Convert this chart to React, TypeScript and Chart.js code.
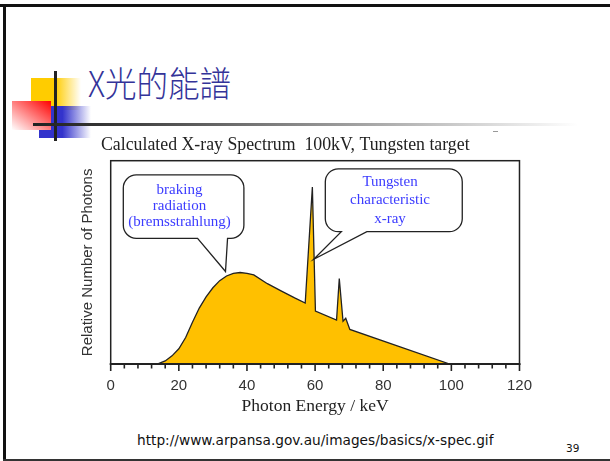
import { useEffect, useRef } from "react";
import { Chart, registerables } from "chart.js";

Chart.register(...registerables);

// ---- data ----
const energyKeV = [12, 14, 16, 18, 20, 22, 24, 26, 28, 30, 32, 34, 36, 38, 40, 42, 46, 50, 54, 57.1, 59.2, 60.1, 66.3, 67.1, 68.2, 69.0, 70.2, 99.5];
const relativePhotons = [0, 0.2, 1.5, 4, 7.5, 13, 20.5, 27.5, 33, 37.5, 41, 43.3, 44.6, 45, 44.6, 43.8, 39.5, 36, 32.5, 30, 87, 26, 21.6, 42, 21, 22.5, 17, 0];

const xMin = 0;
const xMax = 120;
const xMajorStep = 20;
const xMinorStep = 4;
const yMin = 0;
const yMax = 100;

const chartTitle = "Calculated X-ray Spectrum  100kV, Tungsten target";
const xAxisTitle = "Photon Energy / keV";
const yAxisTitle = "Relative Number of Photons";
const brakingLines = ["braking", "radiation", "(bremsstrahlung)"];
const tungstenLines = ["Tungsten", "characteristic", "x-ray"];
const slideTitleLatin = "X";
const slideTitleCjk = "光的能譜";
const sourceUrl = "http://www.arpansa.gov.au/images/basics/x-spec.gif";
const pageNumber = "39";

// callout geometry in data units (keV, relative photons)
const brakingCallout = {
  box: { x0: 3.7, x1: 39.1, y0: 61.8, y1: 93.0 },
  pointer: { base0: 25.5, base1: 34.3, tipX: 33.7, tipY: 45.5 },
  text: { x: 20.2, y: [85.6, 77.7, 69.7] },
};
const tungstenCallout = {
  box: { x0: 63.0, x1: 103.2, y0: 65.1, y1: 96.0 },
  pointer: { base0: 67.7, base1: 75.2, tipX: 59.6, tipY: 51.5 },
  text: { x: 82.0, y: [89.7, 80.5, 71.3] },
};

type Callout = typeof brakingCallout;

function drawCallout(ctx: CanvasRenderingContext2D, xs: any, ys: any, c: Callout, lines: string[]) {
  const L = xs.getPixelForValue(c.box.x0);
  const R = xs.getPixelForValue(c.box.x1);
  const T = ys.getPixelForValue(c.box.y1);
  const B = ys.getPixelForValue(c.box.y0);
  const pl = xs.getPixelForValue(c.pointer.base0);
  const pr = xs.getPixelForValue(c.pointer.base1);
  const tx = xs.getPixelForValue(c.pointer.tipX);
  const ty = ys.getPixelForValue(c.pointer.tipY);
  const r = 13;
  ctx.beginPath();
  ctx.moveTo(L + r, T);
  ctx.lineTo(R - r, T);
  ctx.arcTo(R, T, R, T + r, r);
  ctx.lineTo(R, B - r);
  ctx.arcTo(R, B, R - r, B, r);
  ctx.lineTo(pr, B);
  ctx.lineTo(tx, ty);
  ctx.lineTo(pl, B);
  ctx.lineTo(L + r, B);
  ctx.arcTo(L, B, L, B - r, r);
  ctx.lineTo(L, T + r);
  ctx.arcTo(L, T, L + r, T, r);
  ctx.closePath();
  ctx.fillStyle = "#ffffff";
  ctx.fill();
  ctx.strokeStyle = "#222";
  ctx.lineWidth = 1.3;
  ctx.stroke();

  ctx.fillStyle = "#3c3cff";
  ctx.font = "15px 'Liberation Serif', 'Times New Roman', serif";
  ctx.textAlign = "center";
  ctx.textBaseline = "middle";
  const cx = xs.getPixelForValue(c.text.x);
  lines.forEach((ln, i) => {
    ctx.fillText(ln, cx, ys.getPixelForValue(c.text.y[i]));
  });
}

const decorPlugin = {
  id: "spectrumDecor",
  afterDatasetsDraw(chart: any) {
    const { ctx, chartArea: a, scales } = chart;
    const xs = scales.x;
    const ys = scales.y;
    ctx.save();
    // frame
    ctx.strokeStyle = "#222";
    ctx.lineWidth = 1.5;
    ctx.strokeRect(a.left, a.top, a.right - a.left, a.bottom - a.top);
    // bottom axis line
    ctx.lineWidth = 2.2;
    ctx.beginPath();
    ctx.moveTo(a.left - 1, a.bottom);
    ctx.lineTo(a.right + 1, a.bottom);
    ctx.stroke();
    // tick marks
    ctx.lineWidth = 1.6;
    for (let v = xMin; v <= xMax; v += xMinorStep) {
      const px = xs.getPixelForValue(v);
      const len = v % xMajorStep === 0 ? 7 : 4.5;
      ctx.beginPath();
      ctx.moveTo(px, a.bottom);
      ctx.lineTo(px, a.bottom + len);
      ctx.stroke();
    }
    // callouts
    drawCallout(ctx, xs, ys, brakingCallout, brakingLines);
    drawCallout(ctx, xs, ys, tungstenCallout, tungstenLines);
    // chart title
    ctx.fillStyle = "#222";
    ctx.font = "17.8px 'Liberation Serif', 'Times New Roman', serif";
    ctx.textAlign = "left";
    ctx.textBaseline = "middle";
    ctx.fillText(chartTitle, a.left - 9.7, a.top - 15.7);
    ctx.restore();
  },
};

function SpectrumChart() {
  const ref = useRef<HTMLCanvasElement | null>(null);
  useEffect(() => {
    if (!ref.current) return;
    const chart = new Chart(ref.current, {
      type: "line",
      data: {
        datasets: [
          {
            data: energyKeV.map((e, i) => ({ x: e, y: relativePhotons[i] })),
            borderColor: "#222",
            borderWidth: 1.3,
            backgroundColor: "#FFC000",
            fill: "origin",
            pointRadius: 0,
            tension: 0,
          },
        ],
      },
      options: {
        animation: false,
        responsive: true,
        maintainAspectRatio: false,
        layout: { padding: { top: 30.7, right: 23.3, left: 0, bottom: 0 } },
        plugins: {
          legend: { display: false },
          tooltip: { enabled: false },
          title: { display: false },
        },
        scales: {
          x: {
            type: "linear",
            min: xMin,
            max: xMax,
            ticks: {
              stepSize: xMajorStep,
              autoSkip: false,
              maxRotation: 0,
              padding: 13,
              color: "#333",
              font: { family: "'Liberation Sans', Arial, sans-serif", size: 15 },
            },
            grid: { display: false, drawTicks: false },
            border: { display: false },
            title: {
              display: true,
              text: xAxisTitle,
              color: "#222",
              font: { family: "'Liberation Serif', 'Times New Roman', serif", size: 17.5 },
              padding: { top: 0, bottom: 3 },
            },
            afterFit: (s: any) => {
              s.height = 56;
            },
          },
          y: {
            type: "linear",
            min: yMin,
            max: yMax,
            ticks: { display: false },
            grid: { display: false, drawTicks: false },
            border: { display: false },
            title: {
              display: true,
              text: yAxisTitle,
              color: "#333",
              font: { family: "'Liberation Sans', Arial, sans-serif", size: 15 },
              padding: { top: 4, bottom: 0 },
            },
            afterFit: (s: any) => {
              s.width = 35.7;
            },
          },
        },
      },
      plugins: [decorPlugin],
    });
    return () => chart.destroy();
  }, []);
  return <canvas ref={ref} />;
}

export default function App() {
  const abs = (s: any) => ({ position: "absolute", ...s } as any);
  return (
    <div style={abs({ position: "fixed", left: 0, top: 0, width: 610, height: 461, background: "#fff", overflow: "hidden" })}>
      {/* slide border */}
      <div style={abs({ left: 0, top: 4, width: 610, height: 3, background: "#111" })} />
      <div style={abs({ left: 3, top: 4, width: 2.5, height: 456, background: "#111" })} />
      <div style={abs({ left: 3, top: 458.5, width: 607, height: 2, background: "#333" })} />

      {/* title decoration */}
      <div style={abs({ left: 31, top: 78, width: 50, height: 32, background: "linear-gradient(to right, #FFCC00 0%, #FFCC00 48%, rgba(255,255,255,0) 100%)" })} />
      <div style={abs({ left: 39, top: 106, width: 52, height: 32, background: "linear-gradient(to right, #3333CC 0%, #3333CC 45%, rgba(255,255,255,0) 100%)" })} />
      <div style={abs({ left: 12, top: 101, width: 39, height: 29, background: "linear-gradient(to bottom left, #FF0000 0%, #FFFFFF 100%)" })} />
      <div style={abs({ left: 53.5, top: 71, width: 3, height: 70, background: "#222" })} />
      <div style={abs({ left: 33, top: 122.5, width: 545, height: 3, background: "linear-gradient(to right, #222 0%, #333 12%, rgba(255,255,255,0) 100%)" })} />

      {/* slide title */}
      <div
        style={abs({
          left: 88,
          top: 64,
          fontSize: 35,
          lineHeight: "35px",
          fontWeight: 300,
          color: "#333399",
          fontFamily: "'Noto Sans CJK TC', sans-serif",
          whiteSpace: "nowrap",
          transform: "scaleX(0.9)",
          transformOrigin: "left top",
        })}
      >
        {slideTitleLatin}
        {slideTitleCjk}
      </div>

      <div style={abs({ left: 493, top: 131, width: 5, height: 1, background: "#999" })} />

      {/* chart */}
      <div style={abs({ left: 75, top: 130, width: 470, height: 290 })}>
        <SpectrumChart />
      </div>

      {/* source */}
      <div
        style={abs({
          left: 137,
          top: 431,
          fontSize: 13.7,
          lineHeight: "18px",
          color: "#111",
          fontFamily: "'DejaVu Sans', Verdana, sans-serif",
          whiteSpace: "nowrap",
        })}
      >
        {sourceUrl}
      </div>
      <div
        style={abs({
          left: 566,
          top: 441,
          fontSize: 10.5,
          lineHeight: "14px",
          color: "#111",
          fontFamily: "'DejaVu Sans', Verdana, sans-serif",
        })}
      >
        {pageNumber}
      </div>
    </div>
  );
}
